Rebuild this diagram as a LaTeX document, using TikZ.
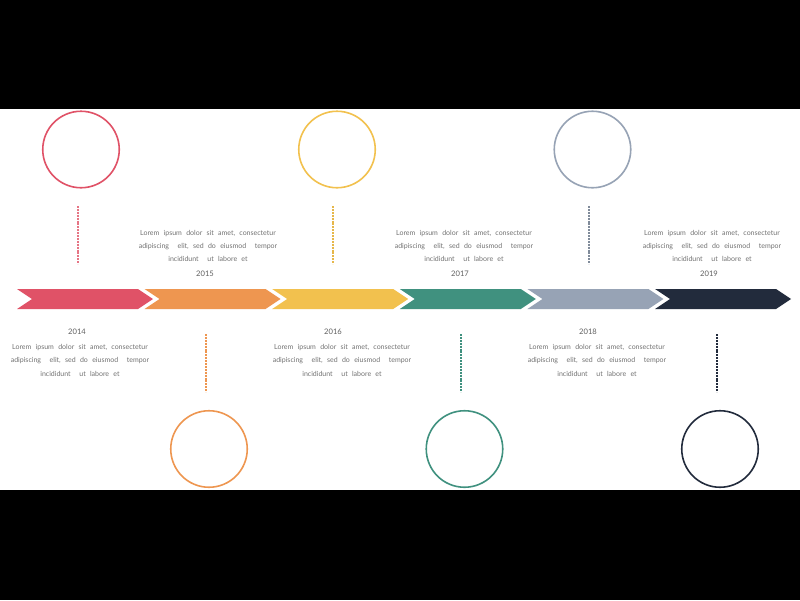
\documentclass[tikz,border=0pt]{standalone}
\usepackage{fontspec}
\setmainfont{Lato}
\newfontfamily\parafont[WordSpace=2.4]{Lato}
\definecolor{cA}{HTML}{E05267}
\definecolor{cB}{HTML}{EE9650}
\definecolor{cC}{HTML}{F2C14E}
\definecolor{cD}{HTML}{40917F}
\definecolor{cE}{HTML}{97A3B5}
\definecolor{cF}{HTML}{222B3C}
\definecolor{txt}{HTML}{727272}
\definecolor{yr}{HTML}{606060}
\tikzset{
  ring/.style={circle, draw=#1, line width=1.6pt, fill=white, minimum size=76.5pt, inner sep=0pt},
  dots/.style={draw=#1, line width=1.5pt, dash pattern=on 2pt off 0.9pt},
  para/.style={align=center, inner sep=0pt, text=txt, font=\parafont\fontsize{7}{13.3}\selectfont},
  year/.style={inner sep=0pt, text=yr, font=\fontsize{7.6}{9}\selectfont},
}
\newcommand{\chev}[2]{%
  \fill[#2] (#1,289) -- ++(121,0) -- ++(15,10) -- ++(-15,10) -- ++(-121,0) -- ++(15,-10) -- cycle;}
\newcommand{\lorem}{Lorem ipsum dolor sit amet, consectetur\\adipiscing\ \ elit, sed do eiusmod\ \ tempor\\incididunt\ \ ut labore et}
\begin{document}
\begin{tikzpicture}[x=1pt,y=-1pt]
\useasboundingbox (0,0) rectangle (800,600);
\fill[white] (0,0) rectangle (800,600);
\fill[black] (0,0) rectangle (800,108.5);
\fill[black] (0,489.5) rectangle (800,600);
% chevrons
\chev{17}{cA}
\chev{144.6}{cB}
\chev{272.2}{cC}
\chev{399.8}{cD}
\chev{527.4}{cE}
\chev{655}{cF}
% circles
\node[ring=cA] (c1) at (81,149.5) {};
\node[ring=cC] (c3) at (337,149.5) {};
\node[ring=cE] (c5) at (592.5,149.5) {};
\node[ring=cB] (c2) at (209,449) {};
\node[ring=cD] (c4) at (464.5,449) {};
\node[ring=cF] (c6) at (720,449) {};
% dotted lines
\coordinate (d1a) at (78,206); \coordinate (d1b) at (78,264);
\coordinate (d3a) at (333,206); \coordinate (d3b) at (333,264);
\coordinate (d5a) at (589,206); \coordinate (d5b) at (589,264);
\coordinate (d2a) at (206,334); \coordinate (d2b) at (206,392);
\coordinate (d4a) at (461,334); \coordinate (d4b) at (461,392);
\coordinate (d6a) at (717,334); \coordinate (d6b) at (717,392);
\draw[dots=cA!80] (d1a) -- (d1b);
\draw[dots=cC!95!black] (d3a) -- (d3b);
\draw[dots=cE!85!black] (d5a) -- (d5b);
\draw[dots=cB] (d2a) -- (d2b);
\draw[dots=cD] (d4a) -- (d4b);
\draw[dots=cF] (d6a) -- (d6b);
% top texts
\node[para] (t2) at (208,246) {\lorem};
\node[year] (y2) at (205,273.5) {2015};
\node[para] (t4) at (464,246) {\lorem};
\node[year] (y4) at (460,273.5) {2017};
\node[para] (t6) at (712,246) {\lorem};
\node[year] (y6) at (709,273.5) {2019};
% bottom texts
\node[year] (y1) at (77,332) {2014};
\node[para] (t1) at (80,360.3) {\lorem};
\node[year] (y3) at (333,332) {2016};
\node[para] (t3) at (342,360.3) {\lorem};
\node[year] (y5) at (588,332) {2018};
\node[para] (t5) at (597,360.3) {\lorem};
\end{tikzpicture}
\end{document}
